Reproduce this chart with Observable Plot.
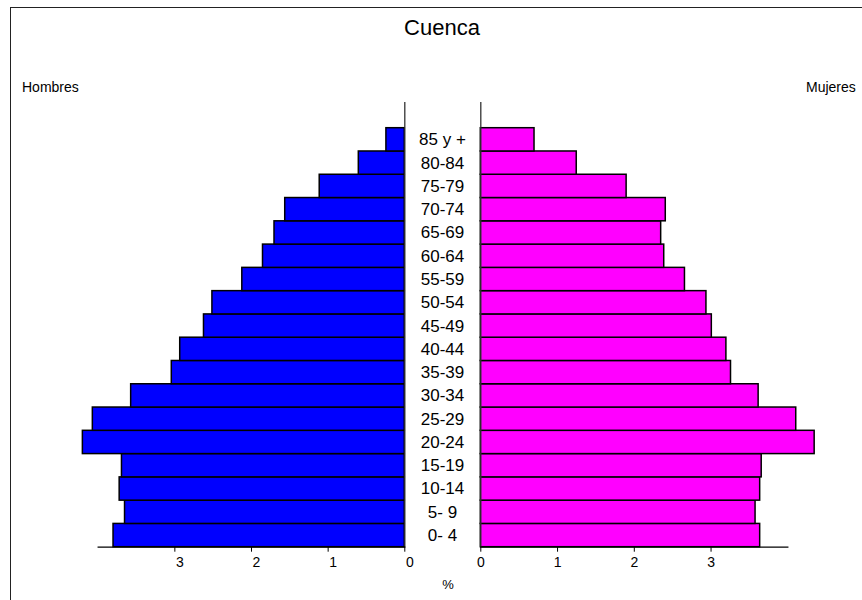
<!DOCTYPE html>
<html>
<head>
<meta charset="utf-8">
<script src="https://cdn.jsdelivr.net/npm/d3@7"></script>
<script src="https://cdn.jsdelivr.net/npm/@observablehq/plot@0.6"></script>
<style>
  html, body { margin: 0; padding: 0; background: white; }
  #chart { position: relative; width: 862px; height: 600px; overflow: hidden; background: white;
           font-family: "Liberation Sans", Arial, sans-serif; color: #000; }
  #border { position: absolute; left: 10px; top: 7px; right: -20px; bottom: -20px; border: 1px solid #222; }
  .lbl { position: absolute; white-space: nowrap; line-height: 1; }
  #left, #right { position: absolute; top: 0; }
  #left { left: 0; }
  #right { left: 442px; }
</style>
</head>
<body>
<div id="chart">
  <div id="border"></div>
  <div class="lbl" style="left:342px; width:200px; text-align:center; top:17px; font-size:22px;">Cuenca</div>
  <div class="lbl" style="left:22px; top:80px; font-size:14px;">Hombres</div>
  <div class="lbl" style="left:806px; top:80px; font-size:14px;">Mujeres</div>
  <div class="lbl" style="left:438px; width:20px; text-align:center; top:578px; font-size:13px;">%</div>
  <div id="left"></div>
  <div id="right"></div>
</div>
<script>
// Age groups, bottom to top
const ages = ["0- 4", "5- 9", "10-14", "15-19", "20-24", "25-29", "30-34", "35-39", "40-44",
              "45-49", "50-54", "55-59", "60-64", "65-69", "70-74", "75-79", "80-84", "85 y +"];
// Percent of population
const hombres = [3.80, 3.65, 3.72, 3.69, 4.20, 4.07, 3.57, 3.04, 2.93,
                 2.62, 2.51, 2.12, 1.85, 1.70, 1.56, 1.11, 0.60, 0.24];
const mujeres = [3.64, 3.58, 3.64, 3.66, 4.35, 4.11, 3.62, 3.26, 3.20,
                 3.01, 2.94, 2.66, 2.39, 2.35, 2.41, 1.90, 1.25, 0.70];
const xTicks = [0, 1, 2, 3];

const menData = ages.map((a, i) => ({age: a, v: hombres[i]}));
const womenData = ages.map((a, i) => ({age: a, v: mujeres[i]}));
const yDomain = [...ages].reverse();

const common = {
  height: 600,
  marginTop: 102,
  marginBottom: 53.3,
  style: {background: "transparent", color: "#000", fontFamily: "'Liberation Sans', Arial, sans-serif", fontSize: "14px", overflow: "visible"}
};

const left = Plot.plot({
  ...common,
  width: 442,
  marginLeft: 97.7,
  marginRight: 37.7,
  x: {domain: [0, 4], reverse: true, label: null},
  y: {domain: yDomain, padding: 0, insetTop: 25.7, round: false, axis: null},
  marks: [
    Plot.barX(menData, {y: "age", x: "v", fill: "#0000ff", stroke: "#000", strokeWidth: 1.5}),
    Plot.ruleX([0], {stroke: "#333", strokeWidth: 1.3}),
    Plot.frame({anchor: "bottom", stroke: "#000", strokeWidth: 1.3}),
    Plot.axisX({ticks: xTicks, tickSize: 5, fill: "none", stroke: "#000", label: null}),
    Plot.axisX({ticks: xTicks, tickSize: 0, tickPadding: 10, dx: 5, label: null, tickFormat: d => String(d)})
  ]
});

const right = Plot.plot({
  ...common,
  width: 420,
  marginLeft: 38.3,
  marginRight: 74.7,
  x: {domain: [0, 4], label: null},
  y: {domain: yDomain, padding: 0, insetTop: 25.7, round: false},
  marks: [
    Plot.barX(womenData, {y: "age", x: "v", fill: "#ff00ff", stroke: "#000", strokeWidth: 1.5}),
    Plot.ruleX([0], {stroke: "#333", strokeWidth: 1.3}),
    Plot.frame({anchor: "bottom", stroke: "#000", strokeWidth: 1.3}),
    Plot.axisX({ticks: xTicks, tickSize: 5, fill: "none", stroke: "#000", label: null}),
    Plot.axisX({ticks: xTicks, tickSize: 0, tickPadding: 10, label: null, tickFormat: d => String(d)}),
    Plot.axisY({anchor: "left", tickSize: 0, tickPadding: 38.3, textAnchor: "middle", fontSize: 17, label: null})
  ]
});

document.getElementById("left").appendChild(left);
document.getElementById("right").appendChild(right);
</script>
</body>
</html>
